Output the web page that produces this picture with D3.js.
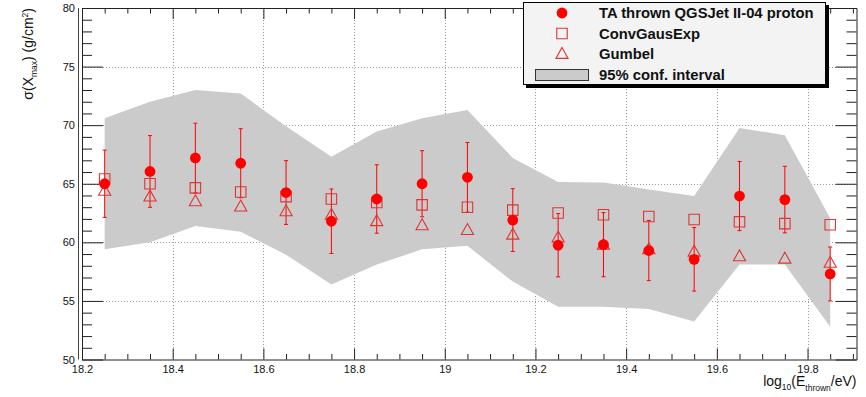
<!DOCTYPE html>
<html>
<head>
<meta charset="utf-8">
<script src="https://cdn.jsdelivr.net/npm/d3@7"></script>
<style>
  html, body { margin: 0; padding: 0; background: #fff; }
  svg { display: block; font-family: "Liberation Sans", Arial, Helvetica, sans-serif; }
</style>
</head>
<body>
<svg id="chart" width="866" height="397"></svg>
<script>
// Energy bin centres, log10(E/eV)
const energy = [18.25, 18.35, 18.45, 18.55, 18.65, 18.75, 18.85, 18.95, 19.05,
                19.15, 19.25, 19.35, 19.45, 19.55, 19.65, 19.75, 19.85];
// sigma(Xmax) of thrown TA QGSJet II-04 proton showers and its uncertainty
const sigmaTA = [65.0, 66.05, 67.2, 66.75, 64.25, 61.8, 63.7, 65.0, 65.55,
                 61.9, 59.75, 59.8, 59.3, 58.55, 63.95, 63.65, 57.3];
const sigmaTAErr = [2.87, 3.06, 2.97, 2.95, 2.72, 2.75, 2.92, 2.82, 2.97,
                    2.68, 2.70, 2.74, 2.57, 2.71, 2.95, 2.84, 2.30];
// Fit results
const convGausExp = [65.4, 65.0, 64.65, 64.3, 63.9, 63.7, 63.4, 63.2, 63.0,
                     62.75, 62.5, 62.35, 62.2, 61.95, 61.75, 61.6, 61.5];
const gumbel = [64.4, 63.9, 63.5, 63.05, 62.65, 62.35, 61.8, 61.45, 61.05,
                60.65, 60.4, 59.8, 59.4, 59.2, 58.8, 58.6, 58.25];
// 95% confidence interval band
const bandUpper = [70.6, 72.0, 73.0, 72.7, 69.9, 67.3, 69.45, 70.6, 71.3,
                   67.2, 65.15, 65.1, 64.5, 63.95, 69.75, 69.15, 62.05];
const bandLower = [59.4, 60.0, 61.4, 60.9, 58.95, 56.4, 58.1, 59.4, 59.7,
                   56.65, 54.5, 54.5, 54.3, 53.25, 58.1, 58.1, 52.8];
// Axis ticks
const xMajor = [18.2, 18.4, 18.6, 18.8, 19.0, 19.2, 19.4, 19.6, 19.8];
const xTickLabels = ["18.2", "18.4", "18.6", "18.8", "19", "19.2", "19.4", "19.6", "19.8"];
const yMajor = [50, 55, 60, 65, 70, 75, 80];
const legendLabels = ["TA thrown QGSJet II-04 proton", "ConvGausExp", "Gumbel", "95% conf. interval"];

const svg = d3.select("#chart");
const RED = "#ff0000";
const OPEN_RED = "#e03434";

const x = d3.scaleLinear().domain([18.2, 19.908]).range([82, 856.5]);
const y = d3.scaleLinear().domain([50, 80]).range([359.5, 8]);
const [x0, x1] = x.range();
const [yb, yt] = y.range();

// Minor tick values
const xMinor = d3.range(18.2, 19.9001, 0.05).map(v => +v.toFixed(2)).filter(v => !xMajor.some(m => Math.abs(m - v) < 1e-6));
const yMinor = d3.range(50, 80.001, 1).filter(v => v % 5 !== 0);

// Grid (dotted) behind everything
const grid = svg.append("g").attr("stroke", "#9a9a9a").attr("stroke-width", 1).attr("stroke-dasharray", "1,2");
grid.selectAll("line.gx").data(xMajor.slice(1)).join("line")
  .attr("x1", d => Math.round(x(d)) + 0.5).attr("x2", d => Math.round(x(d)) + 0.5)
  .attr("y1", yt).attr("y2", yb);
grid.selectAll("line.gy").data(yMajor.slice(1, -1)).join("line")
  .attr("x1", x0).attr("x2", x1)
  .attr("y1", d => Math.round(y(d)) + 0.5).attr("y2", d => Math.round(y(d)) + 0.5);

// Confidence band
const band = d3.area()
  .x((d, i) => x(energy[i]))
  .y0((d, i) => y(bandLower[i]))
  .y1((d, i) => y(bandUpper[i]));
svg.append("path").datum(energy).attr("d", band).attr("fill", "#cbcbcb");

// Axes
function styleAxis(g) {
  g.select(".domain").attr("stroke", "#222");
  g.selectAll(".tick line").attr("stroke", "#222");
  g.selectAll(".tick text").attr("fill", "#111").style("font-size", "11px")
    .style("font-family", "'Liberation Sans', Arial, sans-serif");
}
svg.append("g").attr("transform", `translate(0,${yb})`)
  .call(d3.axisBottom(x).tickValues(xMajor).tickFormat((d, i) => xTickLabels[i]).tickSizeInner(-11).tickSizeOuter(0).tickPadding(6))
  .call(styleAxis);
svg.append("g").attr("transform", `translate(0,${yb})`)
  .call(d3.axisBottom(x).tickValues(xMinor).tickFormat("").tickSizeInner(-5.5).tickSizeOuter(0))
  .call(g => g.select(".domain").remove()).call(styleAxis);
svg.append("g").attr("transform", `translate(0,${yt})`)
  .call(d3.axisTop(x).tickValues(xMajor).tickFormat("").tickSizeInner(-11).tickSizeOuter(0))
  .call(styleAxis);
svg.append("g").attr("transform", `translate(0,${yt})`)
  .call(d3.axisTop(x).tickValues(xMinor).tickFormat("").tickSizeInner(-5.5).tickSizeOuter(0))
  .call(g => g.select(".domain").remove()).call(styleAxis);

svg.append("g").attr("transform", `translate(${x0},0)`)
  .call(d3.axisLeft(y).tickValues(yMajor).tickFormat(d3.format("d")).tickSizeInner(-21).tickSizeOuter(0).tickPadding(7))
  .call(styleAxis);
svg.append("g").attr("transform", `translate(${x0},0)`)
  .call(d3.axisLeft(y).tickValues(yMinor).tickFormat("").tickSizeInner(-10).tickSizeOuter(0))
  .call(g => g.select(".domain").remove()).call(styleAxis);
svg.append("g").attr("transform", `translate(${x1},0)`)
  .call(d3.axisRight(y).tickValues(yMajor).tickFormat("").tickSizeInner(-21).tickSizeOuter(0))
  .call(styleAxis);
svg.append("g").attr("transform", `translate(${x1},0)`)
  .call(d3.axisRight(y).tickValues(yMinor).tickFormat("").tickSizeInner(-10).tickSizeOuter(0))
  .call(g => g.select(".domain").remove()).call(styleAxis);
// outer frame line on the left
svg.append("line").attr("x1", x0 - 3.5).attr("x2", x0 - 3.5).attr("y1", yt).attr("y2", yb)
  .attr("stroke", "#444").attr("stroke-width", 1);

// Error bars
const eb = svg.append("g").attr("stroke", RED).attr("stroke-width", 1);
eb.selectAll("line.v").data(energy).join("line")
  .attr("x1", d => x(d)).attr("x2", d => x(d))
  .attr("y1", (d, i) => y(sigmaTA[i] + sigmaTAErr[i]))
  .attr("y2", (d, i) => y(sigmaTA[i] - sigmaTAErr[i]));
eb.selectAll("line.t").data(energy).join("line")
  .attr("x1", d => x(d) - 2).attr("x2", d => x(d) + 2)
  .attr("y1", (d, i) => y(sigmaTA[i] + sigmaTAErr[i]))
  .attr("y2", (d, i) => y(sigmaTA[i] + sigmaTAErr[i]));
eb.selectAll("line.b").data(energy).join("line")
  .attr("x1", d => x(d) - 2).attr("x2", d => x(d) + 2)
  .attr("y1", (d, i) => y(sigmaTA[i] - sigmaTAErr[i]))
  .attr("y2", (d, i) => y(sigmaTA[i] - sigmaTAErr[i]));

// Markers: open fit markers first, filled data points on top
const sqSym = d3.symbol().type(d3.symbolSquare).size(110);
const triPath = (s) => `M0,${-s * 0.62}L${s * 0.58},${s * 0.42}L${-s * 0.58},${s * 0.42}Z`;

svg.append("g").selectAll("path").data(energy).join("path")
  .attr("transform", (d, i) => `translate(${x(d)},${y(convGausExp[i])})`)
  .attr("d", sqSym).attr("fill", "none").attr("stroke", OPEN_RED).attr("stroke-width", 1.1);
svg.append("g").selectAll("path").data(energy).join("path")
  .attr("transform", (d, i) => `translate(${x(d)},${y(gumbel[i])})`)
  .attr("d", triPath(10.5)).attr("fill", "none").attr("stroke", OPEN_RED).attr("stroke-width", 1.1);
svg.append("g").selectAll("circle").data(energy).join("circle")
  .attr("cx", d => x(d)).attr("cy", (d, i) => y(sigmaTA[i])).attr("r", 5.4).attr("fill", RED);

// Axis titles
const xt = svg.append("text").attr("x", x1).attr("y", 386).attr("text-anchor", "end")
  .style("font-size", "14px").attr("fill", "#111");
xt.append("tspan").text("log");
xt.append("tspan").attr("dy", 4).style("font-size", "8.5px").text("10");
xt.append("tspan").attr("dy", -4).text("(E");
xt.append("tspan").attr("dy", 5).style("font-size", "8.5px").text("thrown");
xt.append("tspan").attr("dy", -5).text("/eV)");

const yl = svg.append("text").attr("transform", `translate(33,${yt}) rotate(-90)`).attr("text-anchor", "end")
  .style("font-size", "14px").attr("fill", "#111");
yl.append("tspan").text("σ(X");
yl.append("tspan").attr("dy", 4).style("font-size", "8.5px").text("max");
yl.append("tspan").attr("dy", -4).text(") (g/cm");
yl.append("tspan").attr("dy", -5).style("font-size", "8.5px").text("2");
yl.append("tspan").attr("dy", 5).text(")");

// Legend
const lg = svg.append("g");
lg.append("rect").attr("x", 526).attr("y", 5).attr("width", 303).attr("height", 83).attr("fill", "#000");
lg.append("rect").attr("x", 523.5).attr("y", 2.5).attr("width", 302).attr("height", 82)
  .attr("fill", "#f3f3f3").attr("stroke", "#000").attr("stroke-width", 1);
const rowY = [13, 33.5, 54, 75];
lg.selectAll("text").data(legendLabels).join("text")
  .attr("x", 599).attr("y", (d, i) => rowY[i] + 5.2)
  .style("font-size", "14.8px").style("font-weight", "bold").attr("fill", "#111").text(d => d);
lg.append("circle").attr("cx", 562).attr("cy", rowY[0]).attr("r", 5.4).attr("fill", RED);
lg.append("path").attr("transform", `translate(562,${rowY[1]})`).attr("d", sqSym)
  .attr("fill", "none").attr("stroke", OPEN_RED).attr("stroke-width", 1.1);
lg.append("path").attr("transform", `translate(562,${rowY[2]})`).attr("d", triPath(10.5))
  .attr("fill", "none").attr("stroke", OPEN_RED).attr("stroke-width", 1.1);
lg.append("rect").attr("x", 535.5).attr("y", 69.5).attr("width", 53).attr("height", 11)
  .attr("fill", "#cbcbcb").attr("stroke", "#333").attr("stroke-width", 1);
</script>
</body>
</html>
